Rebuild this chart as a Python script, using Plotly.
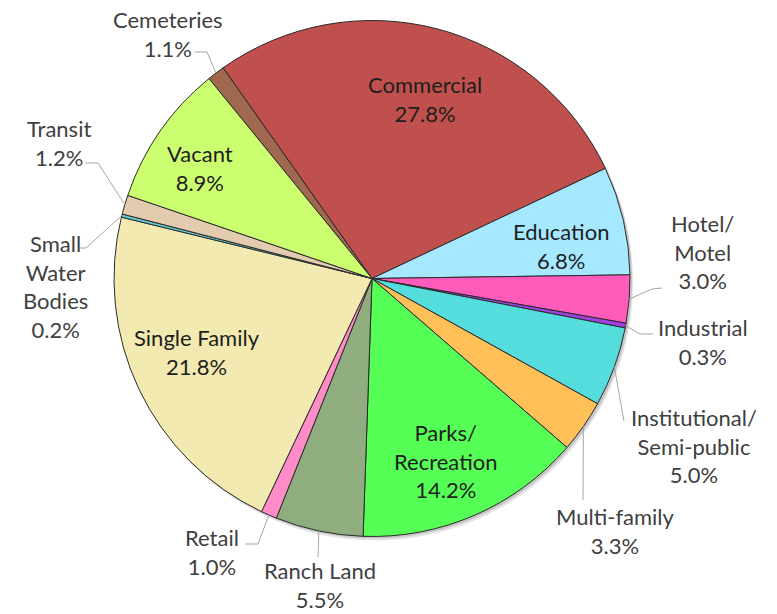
import math
import plotly.graph_objects as go

# ---- data ----
categories = ["Cemeteries", "Commercial", "Education", "Hotel/Motel", "Industrial",
              "Institutional/Semi-public", "Multi-family", "Parks/Recreation",
              "Ranch Land", "Retail", "Single Family", "Small Water Bodies",
              "Transit", "Vacant"]
shares = [1.1, 27.8, 6.8, 3.0, 0.3, 5.0, 3.3, 14.2, 5.5, 1.0, 21.8, 0.2, 1.2, 8.9]
display_names = ["Cemeteries", "Commercial", "Education", "Hotel/<br>Motel", "Industrial",
                 "Institutional/<br>Semi-public", "Multi-family", "Parks/<br>Recreation",
                 "Ranch Land", "Retail", "Single Family", "Small<br>Water<br>Bodies",
                 "Transit", "Vacant"]

# ---- style / layout ----
colors = ["#A0694F", "#C0504D", "#A6E8FF", "#FF5BBB", "#A040E0", "#55DDDD", "#FFC058",
          "#55FF55", "#8FAD7E", "#FF8CC6", "#F2EAB0", "#66CCCC", "#E2CBAE", "#CCFF70"]
W, H = 777, 614          # window size
OFF = 8                  # default page body margin
FW, FH = W - OFF, H - OFF
CX, CY, R = 372.0, 278.5, 258.0
ROT = -39.2
FONT = "Lato"
FSIZE = 22
inside = {"Commercial", "Education", "Vacant", "Single Family", "Parks/Recreation"}
# label centre (px) and leader-line waypoints (px) for each category
label_pos = {
    "Cemeteries": (168, 34), "Commercial": (425, 99), "Education": (561, 246),
    "Hotel/Motel": (702, 252), "Industrial": (703, 342),
    "Institutional/Semi-public": (694, 446), "Multi-family": (615, 531),
    "Parks/Recreation": (445, 461), "Ranch Land": (320, 585), "Retail": (212, 552),
    "Single Family": (197, 352), "Small Water Bodies": (55, 286), "Transit": (59, 143),
    "Vacant": (200, 168),
}
leader = {
    "Cemeteries": [(207, 52), (195, 52)],
    "Transit": [(98, 163), (85, 163)],
    "Small Water Bodies": [(86, 248), (78, 248)],
    "Hotel/Motel": [(652, 289), (662, 288)],
    "Industrial": [(640, 334), (653, 334)],
    "Institutional/Semi-public": [(624, 421)],
    "Multi-family": [(583, 500)],
    "Retail": [(258, 544), (245, 544)],
    "Ranch Land": [(318, 557)],
}


def px(x):
    return (x - OFF) / FW


def py(y):
    return 1 - (y - OFF) / FH


dom_x = [px(CX - R), px(CX + R)]
dom_y = [py(CY + R), py(CY - R)]

fig = go.Figure()
# soft shadow
for off, alpha in [((3, 4), 0.10), ((2, 2), 0.14)]:
    fig.add_trace(go.Pie(
        values=[1], marker=dict(colors=[f"rgba(0,0,0,{alpha})"], line=dict(width=0)),
        domain=dict(x=[px(CX - R + off[0]), px(CX + R + off[0])],
                    y=[py(CY + R + off[1]), py(CY - R + off[1])]),
        textinfo="none", hoverinfo="skip", showlegend=False, sort=False))

fig.add_trace(go.Pie(
    labels=categories, values=shares, sort=False, direction="clockwise",
    rotation=ROT, marker=dict(colors=colors, line=dict(color="#2b2b2b", width=1)),
    textinfo="none", showlegend=False, domain=dict(x=dom_x, y=dom_y),
    hovertemplate="%{label}: %{value}%<extra></extra>"))

annotations = []
shapes = []
total = sum(shares)
cum = 0.0
for name, disp, v in zip(categories, display_names, shares):
    mid = (cum + v / 2) / total
    cum += v
    ang = math.radians(ROT + mid * 360)
    rim = (CX + R * math.sin(ang), CY - R * math.cos(ang))
    lx, ly = label_pos[name]
    is_in = name in inside
    annotations.append(dict(
        x=px(lx), y=py(ly), xref="paper", yref="paper", showarrow=False,
        text=f"{disp}<br>{v:.1f}%", xanchor="center", yanchor="middle",
        align="center",
        font=dict(family=FONT, size=FSIZE, color="#1e1e1e" if is_in else "#404040")))
    if name in leader:
        pts = [rim] + leader[name]
        path = "M " + " L ".join(f"{px(a):.5f},{py(b):.5f}" for a, b in pts)
        shapes.append(dict(type="path", path=path, xref="paper", yref="paper",
                           line=dict(color="#A6A6A6", width=1)))

fig.update_layout(
    width=FW, height=FH, margin=dict(l=0, r=0, t=0, b=0),
    paper_bgcolor="white", plot_bgcolor="white",
    annotations=annotations, shapes=shapes, font=dict(family=FONT))

fig.write_html("out.html")
